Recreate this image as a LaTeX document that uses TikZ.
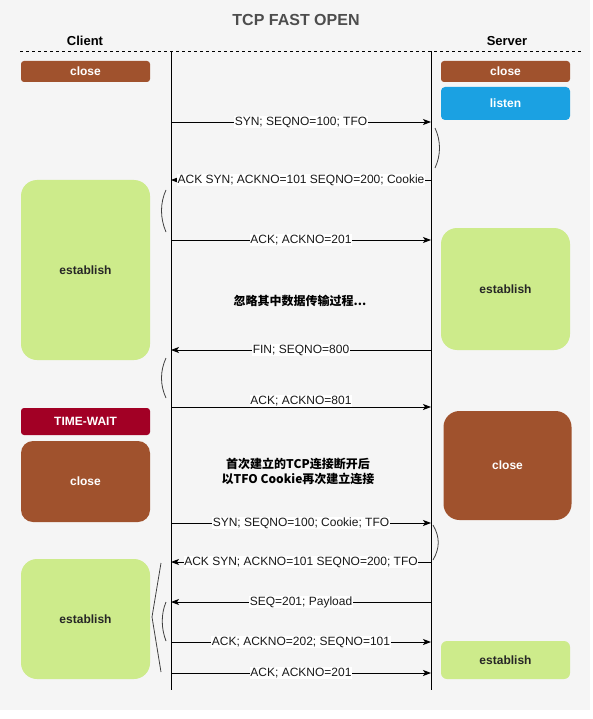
\documentclass[tikz,border=0pt]{standalone}
\usepackage{fontspec}
\setmainfont{Liberation Sans}
\newfontfamily\cjk{Noto Sans CJK SC}
\usetikzlibrary{arrows.meta, positioning}

\definecolor{bgc}{HTML}{F5F5F5}
\definecolor{brownc}{HTML}{A0522D}
\definecolor{bluec}{HTML}{1BA1E2}
\definecolor{greenc}{HTML}{CDEB8B}
\definecolor{redc}{HTML}{A20025}
\definecolor{titlec}{HTML}{4D4D4D}

\tikzset{
  box/.style={rectangle, minimum width=129pt, inner sep=0pt, font=\fontsize{12}{14}\selectfont\bfseries},
  darkbox/.style={box, fill=#1, text=white},
  estbox/.style={box, fill=greenc, text=black!85},
  msg/.style={-{Stealth[length=8pt,width=6pt,inset=2pt]}, line width=0.9pt},
  lbl/.style={fill=white, inner sep=0.6pt, text=black!90, font=\fontsize{12}{14}\selectfont},
  brk/.style={draw=black!75, line width=0.8pt}
}

\begin{document}
\begin{tikzpicture}[x=1pt, y=-1pt]
    \useasboundingbox (0,0) rectangle (592,719);
    \fill[bgc] (0,0) rectangle (590,710);

    % Header
    \node[font=\fontsize{16}{19}\selectfont\bfseries, text=titlec] (title) at (296,20) {TCP FAST OPEN};
    \node[font=\fontsize{13}{15}\selectfont\bfseries] (client) at (85,41) {Client};
    \node[font=\fontsize{13}{15}\selectfont\bfseries] (server) at (507,41) {Server};
    \coordinate (dl) at (20,51);
    \coordinate (dr) at (582,51);
    \draw[dash pattern=on 3pt off 3pt, line width=0.9pt] (dl) -- (dr);

    % Lifelines
    \coordinate (ctop) at (171,51);
    \coordinate (cbot) at (171,690);
    \coordinate (svtop) at (431,51);
    \coordinate (svbot) at (431,690);
    \draw[line width=0.9pt] (ctop) -- (cbot);
    \draw[line width=0.9pt] (svtop) -- (svbot);

    % Client states
    \node[darkbox=brownc, minimum height=21pt, rounded corners=3pt] (cclose1) at (85.5,71.5) {close};
    \node[estbox, minimum height=180pt, rounded corners=16pt] (cest1) at (85.5,270) {establish};
    \node[darkbox=redc, minimum height=27pt, rounded corners=3pt] (ctw) at (85.5,421.5) {TIME-WAIT};
    \node[darkbox=brownc, minimum height=81pt, rounded corners=12pt] (cclose2) at (85.5,481.5) {close};
    \node[estbox, minimum height=120pt, rounded corners=16pt] (cest2) at (85.5,619) {establish};

    % Server states
    \node[darkbox=brownc, minimum height=21pt, rounded corners=3pt] (sclose1) at (505.5,71.5) {close};
    \node[darkbox=bluec, minimum height=33pt, rounded corners=4pt] (slisten) at (505.5,103.5) {listen};
    \node[estbox, minimum height=122pt, rounded corners=16pt] (sest1) at (505.5,289) {establish};
    \node[darkbox=brownc, minimum width=128pt, minimum height=109pt, rounded corners=16pt] (sclose2) at (507.5,465.5) {close};
    \node[estbox, minimum height=38pt, rounded corners=6pt] (sest2) at (505.5,660) {establish};

    % Client -> Server
    \foreach \y/\txt in {122/{SYN; SEQNO=100; TFO}, 240/{ACK; ACKNO=201},
                         523/{SYN; SEQNO=100; Cookie; TFO}, 642/{ACK; ACKNO=202; SEQNO=101},
                         673/{ACK; ACKNO=201}} {
        \coordinate (c\y) at (171,\y);
        \coordinate (s\y) at (431,\y);
        \draw[msg] (c\y) -- node[lbl] {\txt} (s\y);
    }
    \coordinate (c407) at (171,407);
    \coordinate (s407) at (431,407);
    \draw[msg] (c407) -- node[lbl, above=0pt] {ACK; ACKNO=801} (s407);

    % Server -> Client
    \foreach \y/\txt in {180/{ACK SYN; ACKNO=101 SEQNO=200; Cookie}, 350/{FIN; SEQNO=800},
                         562/{ACK SYN; ACKNO=101 SEQNO=200; TFO}, 602/{SEQ=201; Payload}} {
        \coordinate (c\y) at (171,\y);
        \coordinate (s\y) at (431,\y);
        \draw[msg] (s\y) -- node[lbl] {\txt} (c\y);
    }

    % Notes
    \node[font=\cjk\fontsize{12}{14}\selectfont\bfseries] (skip) at (300,301) {忽略其中数据传输过程...};
    \node[align=center, font=\cjk\fontsize{12}{15}\selectfont\bfseries] (again) at (298,471)
        {首次建立的TCP连接断开后\\以TFO Cookie再次建立连接};

    % Waiting brackets
    \draw[brk] (435,128) .. controls (441,141) and (441,155) .. (435,168);
    \draw[brk] (166,190) .. controls (160,203) and (160,218) .. (166,232);
    \draw[brk] (166,358) .. controls (160,371) and (160,385) .. (166,398);
    \draw[brk] (433,525) .. controls (440,537) and (440,548) .. (433,560);
    \draw[brk] (161,563) -- (152,617) -- (161,672);
    \draw[brk] (166,602) .. controls (161,614) and (161,628) .. (166,641);
\end{tikzpicture}
\end{document}
